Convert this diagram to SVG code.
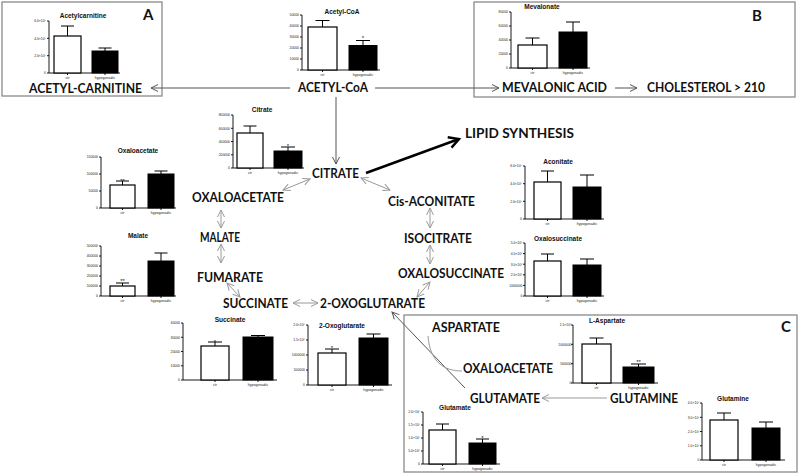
<svg xmlns="http://www.w3.org/2000/svg" width="800" height="476" viewBox="0 0 800 476">
<style>
.lbl{font-family:Lato,"Open Sans",sans-serif;font-weight:700;font-size:12.8px;fill:#111}
.big{font-family:Lato,"Open Sans",sans-serif;font-weight:700;font-size:15px;fill:#111}
.ttl{font-family:"Liberation Sans",Arial,sans-serif;font-weight:700;font-size:6.5px;text-anchor:middle;fill:#111}
.tk{font-family:"Liberation Sans",Arial,sans-serif;font-size:3.4px;text-anchor:end;fill:#222}
.cat{font-family:"Liberation Sans",Arial,sans-serif;font-size:3.6px;text-anchor:middle;fill:#222}
.star{font-family:"Liberation Sans",Arial,sans-serif;font-size:6px;text-anchor:middle;fill:#111}
.ax{stroke:#000;stroke-width:0.9;fill:none}
.wb{fill:#fff;stroke:#000;stroke-width:1.2}
.bb{fill:#000;stroke:#000;stroke-width:1}
.eb{stroke:#000;stroke-width:1;fill:none}
.box{fill:none;stroke:#8a8a8a;stroke-width:1.3}
.dk{stroke:#555;stroke-width:1;fill:none}
.gr{stroke:#9a9a9a;stroke-width:1;fill:none}
</style>
<defs>
<marker id="mDk" markerUnits="userSpaceOnUse" markerWidth="10" markerHeight="10" refX="7" refY="4" orient="auto-start-reverse" viewBox="0 0 10 8" overflow="visible"><path d="M0,0.5L7,4L0,7.5" fill="none" stroke="#555" stroke-width="1"/></marker>
<marker id="mGr" markerUnits="userSpaceOnUse" markerWidth="10" markerHeight="10" refX="7" refY="4" orient="auto-start-reverse" viewBox="0 0 10 8" overflow="visible"><path d="M0,0.5L7,4L0,7.5" fill="none" stroke="#9a9a9a" stroke-width="1"/></marker>
<marker id="mBk" markerUnits="userSpaceOnUse" markerWidth="14" markerHeight="14" refX="10" refY="6" orient="auto" viewBox="0 0 14 12" overflow="visible"><path d="M0,0.5L10,6L0,11.5" fill="none" stroke="#000" stroke-width="2.4" stroke-linejoin="miter"/></marker>
</defs>
<rect width="800" height="476" fill="#fff"/>

<g id="boxes">
<rect class="box" x="2" y="2" width="160" height="94"/>
<rect class="box" x="474" y="2" width="321" height="95"/>
<rect class="box" x="404" y="315" width="393" height="157"/>
<text class="big" x="143" y="20">A</text>
<text class="big" x="752" y="21">B</text>
<text class="big" x="781" y="332">C</text>
</g>

<g id="connectors">
<line class="dk" x1="290" y1="88" x2="151" y2="88" marker-end="url(#mDk)"/>
<line class="dk" x1="375" y1="88" x2="499" y2="88" marker-end="url(#mDk)"/>
<line class="dk" x1="615" y1="88" x2="637" y2="88" marker-end="url(#mDk)"/>
<line class="dk" x1="336" y1="97" x2="336" y2="164" marker-end="url(#mDk)"/>
<line x1="366" y1="173" x2="459" y2="139" stroke="#000" stroke-width="2.4" marker-end="url(#mBk)"/>
<line class="gr" x1="283" y1="190" x2="310" y2="179" marker-start="url(#mGr)" marker-end="url(#mGr)"/>
<line class="gr" x1="361" y1="178" x2="390" y2="190" marker-start="url(#mGr)" marker-end="url(#mGr)"/>
<line class="gr" x1="430" y1="208" x2="430" y2="228" marker-start="url(#mGr)" marker-end="url(#mGr)"/>
<line class="gr" x1="430" y1="245" x2="430" y2="264" marker-start="url(#mGr)" marker-end="url(#mGr)"/>
<line class="gr" x1="430" y1="282" x2="417" y2="297" marker-start="url(#mGr)" marker-end="url(#mGr)"/>
<line class="gr" x1="221" y1="210" x2="221" y2="228" marker-start="url(#mGr)" marker-end="url(#mGr)"/>
<line class="gr" x1="221" y1="244" x2="221" y2="263" marker-start="url(#mGr)" marker-end="url(#mGr)"/>
<line class="gr" x1="227" y1="283" x2="240" y2="297" marker-start="url(#mGr)" marker-end="url(#mGr)"/>
<line class="gr" x1="293" y1="303" x2="318" y2="303" marker-start="url(#mGr)" marker-end="url(#mGr)"/>
<line class="gr" x1="607" y1="398" x2="542" y2="398" marker-end="url(#mGr)"/>
<line class="dk" x1="465" y1="388" x2="392" y2="312" marker-end="url(#mDk)"/>
<path class="gr" d="M428,336C430,362 444,371 462,371"/>
</g>

<g id="node-acetyl-carnitine"><text class="lbl" x="29" y="93" textLength="113" lengthAdjust="spacingAndGlyphs">ACETYL-CARNITINE</text></g>
<g id="node-acetyl-coa"><text class="lbl" x="298" y="92" textLength="70" lengthAdjust="spacingAndGlyphs">ACETYL-CoA</text></g>
<g id="node-mevalonic-acid"><text class="lbl" x="502" y="92" textLength="105" lengthAdjust="spacingAndGlyphs">MEVALONIC ACID</text></g>
<g id="node-cholesterol"><text class="lbl" x="647" y="92" textLength="118" lengthAdjust="spacingAndGlyphs">CHOLESTEROL &gt; 210</text></g>
<g id="node-lipid-synthesis"><text class="lbl" x="465" y="138" textLength="109" lengthAdjust="spacingAndGlyphs">LIPID SYNTHESIS</text></g>
<g id="node-citrate"><text class="lbl" x="312" y="178" textLength="47" lengthAdjust="spacingAndGlyphs">CITRATE</text></g>
<g id="node-cis-aconitate"><text class="lbl" x="388" y="206" textLength="87" lengthAdjust="spacingAndGlyphs">Cis-ACONITATE</text></g>
<g id="node-isocitrate"><text class="lbl" x="404" y="243" textLength="68" lengthAdjust="spacingAndGlyphs">ISOCITRATE</text></g>
<g id="node-oxalosuccinate"><text class="lbl" x="398" y="278" textLength="106" lengthAdjust="spacingAndGlyphs">OXALOSUCCINATE</text></g>
<g id="node-oxaloacetate"><text class="lbl" x="192" y="202" textLength="92" lengthAdjust="spacingAndGlyphs">OXALOACETATE</text></g>
<g id="node-malate"><text class="lbl" x="200" y="242" textLength="40" lengthAdjust="spacingAndGlyphs">MALATE</text></g>
<g id="node-fumarate"><text class="lbl" x="197" y="282" textLength="66" lengthAdjust="spacingAndGlyphs">FUMARATE</text></g>
<g id="node-succinate"><text class="lbl" x="223" y="308" textLength="65" lengthAdjust="spacingAndGlyphs">SUCCINATE</text></g>
<g id="node-2-oxoglutarate"><text class="lbl" x="320" y="308" textLength="105" lengthAdjust="spacingAndGlyphs">2-OXOGLUTARATE</text></g>
<g id="node-aspartate"><text class="lbl" x="432" y="332" textLength="68" lengthAdjust="spacingAndGlyphs">ASPARTATE</text></g>
<g id="node-oxaloacetate-c"><text class="lbl" x="463" y="373" textLength="90" lengthAdjust="spacingAndGlyphs">OXALOACETATE</text></g>
<g id="node-glutamate"><text class="lbl" x="470" y="403" textLength="70" lengthAdjust="spacingAndGlyphs">GLUTAMATE</text></g>
<g id="node-glutamine"><text class="lbl" x="610" y="403" textLength="68" lengthAdjust="spacingAndGlyphs">GLUTAMINE</text></g>

<g id="chart-acetylcarnitine">
<text class="ttl" x="83" y="18">Acetylcarnitine</text>
<path class="ax" d="M49,21V73H120M47,21H49M47,38.3H49M47,55.7H49M47,73H49M67.5,73V75M105,73V75"/>
<text class="tk" x="46" y="22.3">6.0×10⁵</text><text class="tk" x="46" y="39.6">4.0×10⁵</text><text class="tk" x="46" y="57">2.0×10⁵</text><text class="tk" x="46" y="74.3">0</text>
<rect class="wb" x="54" y="36" width="27" height="37"/>
<rect class="bb" x="92" y="51" width="26" height="22"/>
<path class="eb" d="M67.5,36V26M61,26H74M105,51V48M98.5,48H111.5"/>
<text class="cat" x="67.5" y="79">ctr</text><text class="cat" x="105" y="79">hypogonadic</text>
</g>

<g id="chart-acetyl-coa">
<text class="ttl" x="342" y="14">Acetyl-CoA</text>
<path class="ax" d="M302,15V70H380M300,15H302M300,26H302M300,37H302M300,48H302M300,59H302M300,70H302M322.5,70V72M363,70V72"/>
<text class="tk" x="299" y="16.3">50000</text><text class="tk" x="299" y="27.3">40000</text><text class="tk" x="299" y="38.3">30000</text><text class="tk" x="299" y="49.3">20000</text><text class="tk" x="299" y="60.3">10000</text><text class="tk" x="299" y="71.3">0</text>
<rect class="wb" x="308" y="27" width="29" height="43"/>
<rect class="bb" x="349" y="45.5" width="28" height="24.5"/>
<path class="eb" d="M322.5,27V20.5M315.5,20.5H329.5M363,45.5V40.5M356,40.5H370"/>
<text class="star" x="363" y="39.5">*</text>
<text class="cat" x="322.5" y="76">ctr</text><text class="cat" x="363" y="76">hypogonadic</text>
</g>

<g id="chart-mevalonate">
<text class="ttl" x="542" y="9">Mevalonate</text>
<path class="ax" d="M511,12V68H590M509,12H511M509,26H511M509,40H511M509,54H511M509,68H511M532.5,68V70M573,68V70"/>
<text class="tk" x="508" y="13.3">80000</text><text class="tk" x="508" y="27.3">60000</text><text class="tk" x="508" y="41.3">40000</text><text class="tk" x="508" y="55.3">20000</text><text class="tk" x="508" y="69.3">0</text>
<rect class="wb" x="518" y="45" width="29" height="23"/>
<rect class="bb" x="559" y="32" width="28" height="36"/>
<path class="eb" d="M532.5,45V38M525.5,38H539.5M573,32V22M566,22H580"/>
<text class="cat" x="532.5" y="74">ctr</text><text class="cat" x="573" y="74">hypogonadic</text>
</g>

<g id="chart-citrate">
<text class="ttl" x="262" y="112">Citrate</text>
<path class="ax" d="M233,115V168H304M231,115H233M231,128.3H233M231,141.5H233M231,154.8H233M231,168H233M250,168V170M288,168V170"/>
<text class="tk" x="230" y="116.3">800000</text><text class="tk" x="230" y="129.6">600000</text><text class="tk" x="230" y="142.8">400000</text><text class="tk" x="230" y="156.1">200000</text><text class="tk" x="230" y="169.3">0</text>
<rect class="wb" x="237" y="133" width="26" height="35"/>
<rect class="bb" x="274" y="151" width="28" height="17"/>
<path class="eb" d="M250,133V126M243.5,126H256.5M288,151V147M281,147H295"/>
<text class="star" x="288" y="147.5">*</text>
<text class="cat" x="250" y="173.5">ctr</text><text class="cat" x="288" y="173.5">hypogonadic</text>
</g>

<g id="chart-oxaloacetate">
<text class="ttl" x="138" y="153">Oxaloacetate</text>
<path class="ax" d="M101,157V208H176M99,157H101M99,174H101M99,191H101M99,208H101M122.5,208V210M161,208V210"/>
<text class="tk" x="98" y="158.3">150000</text><text class="tk" x="98" y="175.3">100000</text><text class="tk" x="98" y="192.3">50000</text><text class="tk" x="98" y="209.3">0</text>
<rect class="wb" x="110" y="185" width="25" height="23"/>
<rect class="bb" x="148" y="174" width="26" height="34"/>
<path class="eb" d="M122.5,185V181M116,181H129M161,174V171M154.5,171H167.5"/>
<text class="star" x="122.5" y="183">**</text>
<text class="cat" x="122.5" y="214">ctr</text><text class="cat" x="161" y="214">hypogonadic</text>
</g>

<g id="chart-malate">
<text class="ttl" x="138" y="238">Malate</text>
<path class="ax" d="M101,246V296H176M99,246H101M99,256H101M99,266H101M99,276H101M99,286H101M99,296H101M122.5,296V298M161,296V298"/>
<text class="tk" x="98" y="247.3">500000</text><text class="tk" x="98" y="257.3">400000</text><text class="tk" x="98" y="267.3">300000</text><text class="tk" x="98" y="277.3">200000</text><text class="tk" x="98" y="287.3">100000</text><text class="tk" x="98" y="297.3">0</text>
<rect class="wb" x="110" y="286" width="25" height="10"/>
<rect class="bb" x="148" y="261" width="26" height="35"/>
<path class="eb" d="M122.5,286V283M116,283H129M161,261V253M154.5,253H167.5"/>
<text class="star" x="122.5" y="282.5">**</text>
<text class="cat" x="122.5" y="302">ctr</text><text class="cat" x="161" y="302">hypogonadic</text>
</g>

<g id="chart-aconitate">
<text class="ttl" x="558" y="164">Aconitate</text>
<path class="ax" d="M525,166V219H604M523,166H525M523,183.7H525M523,201.3H525M523,219H525M547.5,219V221M587,219V221"/>
<text class="tk" x="522" y="167.3">6.0×10⁵</text><text class="tk" x="522" y="185">4.0×10⁵</text><text class="tk" x="522" y="202.6">2.0×10⁵</text><text class="tk" x="522" y="220.3">0</text>
<rect class="wb" x="534" y="182" width="27" height="37"/>
<rect class="bb" x="573" y="187" width="28" height="32"/>
<path class="eb" d="M547.5,182V171M541,171H554M587,187V175M580,175H594"/>
<text class="cat" x="547.5" y="225">ctr</text><text class="cat" x="587" y="225">hypogonadic</text>
</g>

<g id="chart-oxalosuccinate">
<text class="ttl" x="558" y="241">Oxalosuccinate</text>
<path class="ax" d="M525,243V296H604M523,243H525M523,253.6H525M523,264.2H525M523,274.8H525M523,285.4H525M523,296H525M547.5,296V298M587,296V298"/>
<text class="tk" x="522.5" y="244.3">5.0×10⁶</text><text class="tk" x="522.5" y="254.9">4.0×10⁶</text><text class="tk" x="522.5" y="265.5">3.0×10⁶</text><text class="tk" x="522.5" y="276.1">2.0×10⁶</text><text class="tk" x="522.5" y="286.7">1000000</text><text class="tk" x="522.5" y="297.3">0</text>
<rect class="wb" x="534" y="261" width="27" height="35"/>
<rect class="bb" x="573" y="265" width="28" height="31"/>
<path class="eb" d="M547.5,261V254M541,254H554M587,265V259M580,259H594"/>
<text class="cat" x="547.5" y="302">ctr</text><text class="cat" x="587" y="302">hypogonadic</text>
</g>

<g id="chart-succinate">
<text class="ttl" x="230" y="322">Succinate</text>
<path class="ax" d="M183,323V380H277M181,323H183M181,337.3H183M181,351.5H183M181,365.8H183M181,380H183M215,380V382M258,380V382"/>
<text class="tk" x="180" y="324.3">40000</text><text class="tk" x="180" y="338.6">30000</text><text class="tk" x="180" y="352.8">20000</text><text class="tk" x="180" y="367.1">10000</text><text class="tk" x="180" y="381.3">0</text>
<rect class="wb" x="201" y="346" width="28" height="34"/>
<rect class="bb" x="243" y="337" width="30" height="43"/>
<path class="eb" d="M215,346V342M208,342H222M258,337V335.5M251,335.5H265"/>
<text class="star" x="215" y="343.5">*</text>
<text class="cat" x="215" y="386">ctr</text><text class="cat" x="258" y="386">hypogonadic</text>
</g>

<g id="chart-2-oxoglutarate">
<text class="ttl" x="342" y="328">2-Oxoglutarate</text>
<path class="ax" d="M308,325V385H392M306,325H308M306,340H308M306,355H308M306,370H308M306,385H308M332,385V387M373.5,385V387"/>
<text class="tk" x="305" y="326.3">2.0×10⁶</text><text class="tk" x="305" y="341.3">1.5×10⁶</text><text class="tk" x="305" y="356.3">1000000</text><text class="tk" x="305" y="371.3">500000</text><text class="tk" x="305" y="386.3">0</text>
<rect class="wb" x="318" y="353" width="28" height="32"/>
<rect class="bb" x="359" y="338" width="29" height="47"/>
<path class="eb" d="M332,353V349M325,349H339M373.5,338V334M366.5,334H380.5"/>
<text class="star" x="332" y="350">*</text>
<text class="cat" x="332" y="391">ctr</text><text class="cat" x="373.5" y="391">hypogonadic</text>
</g>

<g id="chart-l-aspartate">
<text class="ttl" x="607" y="323">L-Aspartate</text>
<path class="ax" d="M573,325V383H658M571,325H573M571,344.3H573M571,363.7H573M571,383H573M596.5,383V385M638.5,383V385"/>
<text class="tk" x="571.5" y="326.3">1.5×10⁶</text><text class="tk" x="571.5" y="345.6">1000000</text><text class="tk" x="571.5" y="365">500000</text><text class="tk" x="571.5" y="384.3">0</text>
<rect class="wb" x="582" y="344" width="29" height="39"/>
<rect class="bb" x="623" y="367" width="31" height="16"/>
<path class="eb" d="M596.5,344V338M589.5,338H603.5M638.5,367V364M631,364H646"/>
<text class="star" x="638.5" y="363.5">**</text>
<text class="cat" x="596.5" y="389">ctr</text><text class="cat" x="638.5" y="389">hypogonadic</text>
</g>

<g id="chart-glutamine">
<text class="ttl" x="733" y="401">Glutamine</text>
<path class="ax" d="M702,403V460H785M700,403H702M700,417.3H702M700,431.5H702M700,445.8H702M700,460H702M724,460V462M766,460V462"/>
<text class="tk" x="699.5" y="404.3">4.0×10⁷</text><text class="tk" x="699.5" y="418.6">3.0×10⁷</text><text class="tk" x="699.5" y="432.8">2.0×10⁷</text><text class="tk" x="699.5" y="447.1">1.0×10⁷</text><text class="tk" x="699.5" y="461.3">0</text>
<rect class="wb" x="710" y="420" width="28" height="40"/>
<rect class="bb" x="752" y="428" width="28" height="32"/>
<path class="eb" d="M724,420V413M717,413H731M766,428V422M759,422H773"/>
<text class="cat" x="724" y="466">ctr</text><text class="cat" x="766" y="466">hypogonadic</text>
</g>

<g id="chart-glutamate">
<text class="ttl" x="455" y="410">Glutamate</text>
<path class="ax" d="M423,412V464H500M421,412H423M421,425H423M421,438H423M421,451H423M421,464H423M442.5,464V466M482.5,464V466"/>
<text class="tk" x="420" y="413.3">2.0×10⁷</text><text class="tk" x="420" y="426.3">1.5×10⁷</text><text class="tk" x="420" y="439.3">1.0×10⁷</text><text class="tk" x="420" y="452.3">5.0×10⁶</text><text class="tk" x="420" y="465.3">0</text>
<rect class="wb" x="429" y="430" width="27" height="34"/>
<rect class="bb" x="469" y="443" width="27" height="21"/>
<path class="eb" d="M442.5,430V424M436,424H449M482.5,443V439M476,439H489"/>
<text class="star" x="482.5" y="439.5">*</text>
<text class="cat" x="442.5" y="470">ctr</text><text class="cat" x="482.5" y="470">hypogonadic</text>
</g>
</svg>
